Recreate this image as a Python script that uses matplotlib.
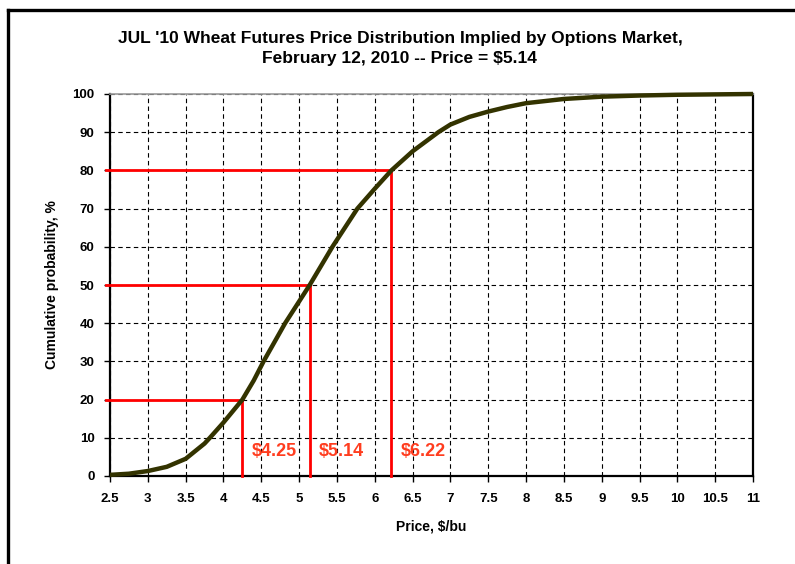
import matplotlib.pyplot as plt
from matplotlib.lines import Line2D

plt.rcParams['font.family'] = ['Liberation Sans', 'DejaVu Sans']
plt.rcParams['font.weight'] = 'bold'

# curve
price = [2.5, 2.75, 3.0, 3.25, 3.5, 3.75, 3.82, 4.0, 4.25, 4.4, 4.53, 4.815,
         5.14, 5.44, 5.77, 6.0, 6.22, 6.5, 6.84, 7.0, 7.25, 7.5, 7.75, 8.0,
         8.5, 9.0, 9.5, 10.0, 10.5, 11.0]
prob = [0.3, 0.6, 1.3, 2.4, 4.5, 8.5, 10.0, 14.0, 20.0, 25.0, 30.0, 40.0,
        50.0, 60.0, 70.0, 75.2, 80.0, 85.0, 90.0, 92.0, 94.0, 95.4, 96.6, 97.6,
        98.7, 99.3, 99.6, 99.8, 99.9, 100.0]

# percentile markers
levels = [20, 50, 80]
level_prices = [4.25, 5.14, 6.22]
level_labels = ['$4.25', '$5.14', '$6.22']

xticks = [2.5, 3, 3.5, 4, 4.5, 5, 5.5, 6, 6.5, 7, 7.5, 8, 8.5, 9, 9.5, 10, 10.5, 11]
xticklabels = ['2.5', '3', '3.5', '4', '4.5', '5', '5.5', '6', '6.5', '7', '7.5',
               '8', '8.5', '9', '9.5', '10', '10.5', '11']
yticks = list(range(0, 101, 10))

fig = plt.figure(figsize=(7.95, 5.64), dpi=100)
ax = fig.add_axes([110 / 795, 88 / 564, 643 / 795, 382 / 564])

ax.set_xlim(2.5, 11)
ax.set_ylim(0, 100)
ax.set_xticks(xticks)
ax.set_xticklabels(xticklabels)
ax.set_yticks(yticks)
ax.tick_params(labelsize=9.5, length=4, width=1, direction='out')
ax.tick_params(axis='y', pad=7)
ax.tick_params(axis='x', pad=8)

ax.grid(True, color='black', linestyle=(0, (4, 3)), linewidth=0.8)
ax.set_axisbelow(True)

for s in ['left', 'bottom', 'right']:
    ax.spines[s].set_linewidth(1.6)
    ax.spines[s].set_color('black')
ax.spines['top'].set_color('#999999')
ax.spines['top'].set_linewidth(1.2)

# red percentile lines
for lv, pr, lab in zip(levels, level_prices, level_labels):
    ax.plot([2.45, pr], [lv, lv], color='#ff0000', lw=2, clip_on=False, zorder=3)
    ax.plot([pr, pr], [0, lv], color='#ff0000', lw=2, clip_on=False, zorder=3)
    ax.text(pr + 0.12, 6.5, lab, color='#ff3d1f', fontsize=13, fontweight='bold',
            ha='left', va='center', zorder=4)

ax.plot(price, prob, color='#333300', lw=3.2, solid_joinstyle='round',
        solid_capstyle='butt', clip_on=False, zorder=5)

ax.set_xlabel('Price, $/bu', fontsize=10, fontweight='bold', labelpad=11)
ax.set_ylabel('Cumulative probability, %', fontsize=10, fontweight='bold', labelpad=10)

fig.text(0.503, 1 - 48.5 / 564,
         "JUL '10 Wheat Futures Price Distribution Implied by Options Market,\n"
         "February 12, 2010 -- Price = $5.14", ha='center', va='center',
         fontsize=12.5, fontweight='bold', linespacing=1.35)

# outer frame (left and top edges visible)
fig.add_artist(Line2D([7.5 / 795, 7.5 / 795], [0, 1 - 10 / 564], color='black', lw=2.4))
fig.add_artist(Line2D([7.5 / 795, 1], [1 - 10 / 564, 1 - 10 / 564], color='black', lw=2.4))

fig.savefig('out.png', dpi=100)
